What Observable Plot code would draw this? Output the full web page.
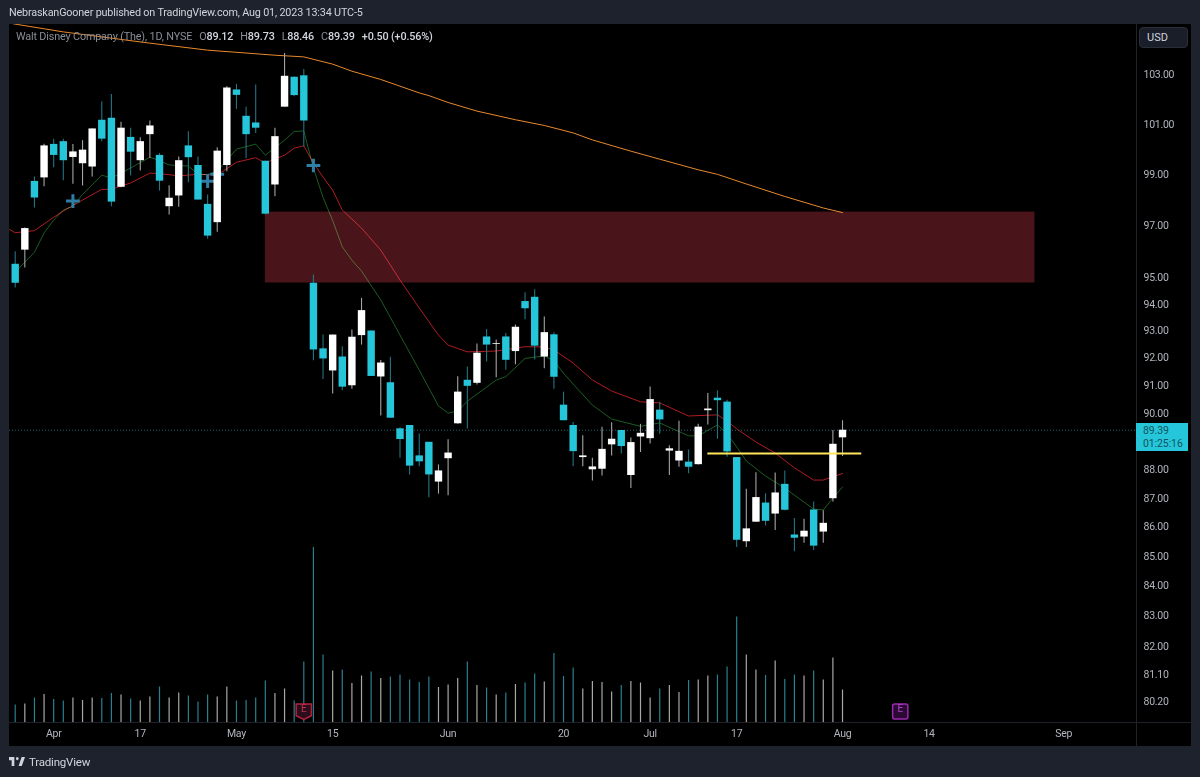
<!DOCTYPE html>
<html>
<head>
<meta charset="utf-8">
<script src="https://cdn.jsdelivr.net/npm/d3@7"></script>
<script src="https://cdn.jsdelivr.net/npm/@observablehq/plot@0.6"></script>
<style>
  html,body{margin:0;padding:0;background:#1e222d;width:1200px;height:777px;overflow:hidden;font-family:Roboto,sans-serif}
  #panel{position:absolute;left:9px;top:24px;width:1182px;height:722px;background:#000}
  #vsep{position:absolute;left:1136px;top:24px;width:1px;height:722px;background:#1f222b}
  #hsep{position:absolute;left:9px;top:722px;width:1182px;height:1px;background:#1f222b}
  .layer{position:absolute;left:0;top:0}
  #head{position:absolute;left:9px;top:6px;font-size:10.8px;letter-spacing:-0.17px;color:#d1d4dc;line-height:14px;white-space:nowrap}
  #legend{position:absolute;left:16px;top:30px;font-size:10.8px;letter-spacing:-0.15px;line-height:14px;color:#8a8d96;white-space:nowrap}
  #legend b{font-weight:500;color:#d1d4dc}
  #legend span{margin-left:7px}
  #usd{position:absolute;left:1139px;top:27px;width:49px;height:21px;box-sizing:border-box;border:1px solid #2a2e39;border-radius:4px;background:#1a1e29;color:#d1d4dc;font-size:11px;line-height:19px;padding-left:7px}
  #last{position:absolute;left:1136px;width:52px;height:28px;background:#26c6da;color:#0f5560;font-size:10.5px;letter-spacing:-0.1px;line-height:13px;padding:1px 0 0 7px;box-sizing:border-box}
  #foot{position:absolute;left:9px;top:753px;height:17px;display:flex;align-items:center;color:#d1d4dc;font-size:11.5px;letter-spacing:-0.2px}
  #foot svg{margin-right:4px}
</style>
</head>
<body>
<div id="panel"></div>
<div id="vsep"></div>
<div id="hsep"></div>
<div id="vol" class="layer"></div>
<div id="main" class="layer"></div>
<div id="head">NebraskanGooner published on TradingView.com, Aug 01, 2023 13:34 UTC-5</div>
<div id="legend">Walt Disney Company (The), 1D, NYSE<span>O<b>89.12</b></span><span>H<b>89.73</b></span><span>L<b>88.46</b></span><span>C<b>89.39</b></span><span><b>+0.50 (+0.56%)</b></span></div>
<div id="usd">USD</div>
<div id="last">89.39<br>01:25:16</div>
<div id="foot"><svg width="16" height="9" viewBox="4 6 30 14" preserveAspectRatio="none"><path fill="#d1d4dc" d="M14 6H4v5h5v9h5V6z"/><circle fill="#d1d4dc" cx="19.5" cy="8.5" r="2.5"/><path fill="#d1d4dc" d="M28 20H22l5.7-14H34l-6 14z"/></svg>TradingView</div>
<script>
// Daily sessions 28 Mar – 1 Aug 2023 (session number = array position)
const opens = [95.51,96.05,98.72,98.86,100.19,100.30,99.67,99.42,99.29,101.16,101.24,98.49,100.47,99.54,100.58,99.75,97.73,98.15,100.13,99.35,97.82,97.11,99.35,102.39,101.32,101.05,99.52,98.58,101.69,102.91,102.97,94.79,92.34,91.53,92.04,90.99,92.83,93.00,91.31,91.10,89.44,89.56,88.48,88.96,87.56,88.38,89.62,91.19,91.08,92.78,92.50,92.78,92.24,94.10,94.26,92.04,92.86,90.29,89.56,88.42,87.99,88.01,88.87,89.38,87.79,89.15,89.09,90.11,88.65,88.30,88.26,88.17,90.09,90.54,90.40,88.42,85.50,86.17,86.83,86.45,87.48,85.73,85.66,86.59,85.83,86.98,89.12];
const highs = [95.99,96.90,98.90,100.20,100.40,100.40,100.19,100.34,100.81,101.91,102.21,101.08,100.84,100.46,101.13,99.83,98.55,99.69,100.70,99.69,98.19,100.06,102.52,102.62,101.69,102.59,99.52,100.84,103.89,102.93,103.23,95.10,92.85,92.85,92.42,93.04,94.22,93.00,91.91,92.03,89.48,89.56,89.26,88.96,88.16,89.05,91.32,91.67,92.52,93.06,92.67,92.91,93.22,94.43,94.54,93.52,92.94,90.76,89.67,89.19,88.40,89.50,89.66,89.38,89.11,89.60,90.95,90.39,88.84,89.71,88.69,89.60,90.71,90.81,90.47,88.42,87.31,87.89,87.15,87.88,87.95,86.30,86.27,86.87,86.56,89.38,89.73];
const lows = [94.61,95.37,97.68,98.51,99.26,98.75,98.61,98.54,98.90,100.30,97.73,98.47,98.93,99.13,99.63,98.34,97.41,97.71,98.67,97.99,96.47,96.74,99.10,101.60,99.62,100.63,97.41,98.12,101.69,102.11,100.09,91.90,91.22,90.69,90.81,90.86,92.48,91.33,89.90,89.82,88.40,87.81,88.10,87.01,87.14,87.08,89.60,89.43,91.02,91.86,91.28,91.56,91.76,93.42,91.93,91.61,90.86,89.73,88.10,88.10,87.60,87.77,88.48,88.55,87.34,88.60,88.90,89.25,87.79,88.08,87.85,88.16,89.58,89.07,88.43,85.30,85.30,86.17,86.04,85.88,86.56,85.16,85.45,85.20,85.45,86.87,88.46];
const closes = [94.79,96.88,98.07,100.13,99.75,99.54,99.89,99.96,100.81,100.40,97.91,100.84,99.88,100.30,100.93,98.73,98.06,99.54,99.66,97.99,96.59,99.92,102.47,102.17,100.58,100.84,97.44,100.50,102.95,102.16,101.13,92.30,91.97,92.85,90.94,92.77,93.76,91.33,91.82,89.82,89.06,88.12,88.27,87.81,87.95,88.58,90.76,90.97,92.18,92.48,92.53,91.92,93.14,93.83,92.44,92.94,91.30,89.73,88.63,88.48,88.09,88.71,89.07,88.81,88.95,89.28,90.49,89.76,88.73,88.64,88.08,89.50,90.15,90.45,88.62,85.55,85.94,87.02,86.20,87.18,86.58,85.62,85.86,85.35,86.13,88.89,89.39];
const volumes = [3.5,3.7,4.9,5.6,4.6,4.3,4.9,4.4,4.9,4.8,5.8,5.5,4.7,4.3,5.1,7.1,4.9,5.9,5.3,4.1,5.5,5.1,7.1,4.3,4.4,4.9,8.3,5.8,6.7,4.3,12.1,35,13.5,10.3,10.5,7.8,9.3,10.1,8.8,9.1,9.5,8.5,8,9.1,7,7.5,8.8,12.1,7.4,6.9,5.5,5.9,7.6,7.9,9.7,8.1,13.8,9.2,10.9,6.7,8.2,8,6.1,7.4,8.2,7.9,4.9,6.7,7.4,6,8.4,8.5,9.3,9.5,11.1,21.1,13.5,10.5,9.4,12.3,8.6,9.5,9.3,10.3,8.5,12.9,6.5];

// Moving averages: session number and value at each read vertex
const redAt = [-0.6,0,2,4,5,7,9,10,12,14,15,17,19,21,23,25,26,28,29,30,31,32,33,34,36,38,40,42,44,45,47,50,53,55,56,58,60,62,65,67,70,73,74,75,77,79,81,83,84,86];
const redVal = [96.85,96.72,96.80,97.32,97.56,97.99,98.41,98.41,98.66,99.05,99.03,98.94,99.00,98.97,99.48,99.66,99.45,99.76,100.04,100.13,99.45,98.89,98.38,97.60,96.90,96.05,94.91,93.86,92.85,92.48,92.23,92.26,92.42,92.41,92.30,91.82,91.20,90.80,90.41,90.37,89.90,89.94,89.72,89.44,88.97,88.58,88.06,87.63,87.63,87.86];
const greenAt = [0,2,3,4,5,6,7,9,10,12,14,15,16,18,19,20,21,23,25,26,28,29,30,31,32,33,34,35,36,38,40,42,44,45,46,47,50,51,53,55,56,57,58,60,62,65,67,70,71,73,74,75,76,78,80,83,84,85,86];
const greenVal = [95.21,95.97,96.71,97.21,97.60,97.75,98.21,98.97,98.85,99.25,99.68,99.54,99.37,99.33,99.00,98.99,99.13,100.00,100.20,99.76,100.36,100.71,100.73,99.25,98.09,97.19,96.18,95.67,95.25,94.16,92.85,91.56,90.26,90.00,90.08,90.43,91.20,91.32,91.99,92.08,91.90,91.45,91.05,90.29,89.79,89.53,89.65,89.19,89.19,89.58,89.26,88.80,88.30,87.77,87.35,86.62,86.59,87.00,87.39];
const orangeAt = [-0.2,5,14,20,27,30,33,35,38,42,43,45,48,52,55,58,60,64,67,71,73,76,80,84,86];
const orangeVal = [105.13,104.79,104.32,104.03,103.82,103.75,103.45,103.16,102.82,102.27,102.16,101.88,101.53,101.18,100.95,100.65,100.37,99.92,99.60,99.18,99.00,98.62,98.13,97.68,97.50];

// Crossing markers
const crossAt = [6,20,21,31];
const crossVal = [97.95,98.73,99.00,99.35];

// Drawn zones
const zoneStart = 26, zoneEnd = 106, zoneTop = 97.52, zoneBottom = 94.80;
const levelStart = 72, levelEnd = 88, levelPrice = 88.56;
const lastClose = 89.39;

// Earnings badges
const earningsAt = [30, 92];
const earningsKind = ["past", "next"];

// Axes
const priceTicks = [103,101,99,97,95,94,93,92,91,90,88,87,86,85,84,83,82,81.1,80.2];
const timeTicks = [4,13,23,33,45,57,66,75,86,95,109];
const timeLabels = ["Apr","17","May","15","Jun","20","Jul","17","Aug","14","Sep"];

const WIDTH = 1200, HEIGHT = 777;
const frame = {width:WIDTH,height:HEIGHT,marginTop:24,marginBottom:55,marginLeft:9,marginRight:64};
const xScale = {type:"linear",domain:[-0.593,116.56]};
const font = {background:"transparent",fontFamily:"Roboto,sans-serif",fontSize:"10.5px",letterSpacing:"-0.25px",overflow:"visible"};

const sessions = opens.map((o,i)=>({i,o,h:highs[i],l:lows[i],c:closes[i],v:volumes[i],up:closes[i]>=o}));
const line = (at,val)=>at.map((x,k)=>({x,y:val[k]}));

// Volume pane uses its own scale, as the chart does
const volPlot = Plot.plot({...frame,x:{...xScale,axis:null},y:{domain:[0,139.6],axis:null},style:font,marks:[
  Plot.ruleX(sessions,{x:"i",y1:0,y2:"v",strokeWidth:1.2,stroke:d=>d.up?"#a8a8a8":"#2a7f90"})
]});
document.getElementById("vol").append(volPlot);

const shield = {draw(c,size){const s=Math.sqrt(size)/2;c.moveTo(-s,-s);c.lineTo(s,-s);c.lineTo(s,s*0.55);c.lineTo(0,s*1.05);c.lineTo(-s,s*0.55);c.closePath();}};
const rounded = {draw(c,size){const s=Math.sqrt(size)/2,r=2;c.moveTo(-s+r,-s);c.lineTo(s-r,-s);c.arcTo(s,-s,s,-s+r,r);c.lineTo(s,s-r);c.arcTo(s,s,s-r,s,r);c.lineTo(-s+r,s);c.arcTo(-s,s,-s,s-r,r);c.lineTo(-s,-s+r);c.arcTo(-s,-s,-s+r,-s,r);c.closePath();}};
const badgeData = earningsAt.map((x,k)=>({x,kind:earningsKind[k]}));

const plot = Plot.plot({...frame,x:{...xScale,axis:null},y:{type:"log",domain:[79.55,105.1],axis:null},style:font,marks:[
  Plot.rect([0],{x1:zoneStart,x2:zoneEnd,y1:zoneBottom,y2:zoneTop,fill:"#4a151a"}),
  Plot.line(line(orangeAt,orangeVal),{x:"x",y:"y",stroke:"#e8892c",strokeWidth:1,clip:true}),
  Plot.line(line(redAt,redVal),{x:"x",y:"y",stroke:"#b01c22",strokeWidth:1,mixBlendMode:"screen"}),
  Plot.line(line(greenAt,greenVal),{x:"x",y:"y",stroke:"#1b5c22",strokeWidth:1,mixBlendMode:"screen"}),
  Plot.ruleY([lastClose],{stroke:"#1f6473",strokeWidth:1,strokeDasharray:"1 2"}),
  Plot.ruleX(sessions,{x:"i",y1:"l",y2:"h",strokeWidth:1.1,stroke:d=>d.up?"#a5a5a5":"#237486"}),
  Plot.dot(crossAt.map((x,k)=>({x,y:crossVal[k]})),{x:"x",y:"y",symbol:"plus",r:4.5,strokeWidth:3,stroke:"#2f7ea6"}),
  Plot.ruleX(sessions,{x:"i",y1:"o",y2:"c",strokeWidth:7.4,stroke:d=>d.up?"#ffffff":"#26c6da"}),
  Plot.ruleY([levelPrice],{x1:levelStart,x2:levelEnd,stroke:"#ffe65c",strokeWidth:2}),
  Plot.axisY(priceTicks,{anchor:"right",tickSize:0,tickPadding:7,fill:"#b2b5be",tickFormat:d=>d.toFixed(2),label:null,textAnchor:"start"}),
  Plot.axisX(timeTicks,{anchor:"bottom",tickSize:0,tickPadding:7,fill:"#b2b5be",tickFormat:d=>timeLabels[timeTicks.indexOf(d)],label:null}),
  Plot.dot(badgeData.filter(d=>d.kind==="past"),{x:"x",frameAnchor:"bottom",dy:-11,symbol:shield,r:8.6,fill:"#2b0d1c",stroke:"#b2223f",strokeWidth:1.5}),
  Plot.dot(badgeData.filter(d=>d.kind==="next"),{x:"x",frameAnchor:"bottom",dy:-11,symbol:rounded,r:8.6,fill:"#2a0a33",stroke:"#9c27b0",strokeWidth:1.5}),
  Plot.text(badgeData,{x:"x",frameAnchor:"bottom",dy:-11,text:d=>"E",fontSize:10,fill:d=>d.kind==="past"?"#c0324f":"#b040c8"})
]});
document.getElementById("main").append(plot);

document.getElementById("last").style.top = (plot.scale("y").apply(lastClose)-7)+"px";
</script>
</body>
</html>
